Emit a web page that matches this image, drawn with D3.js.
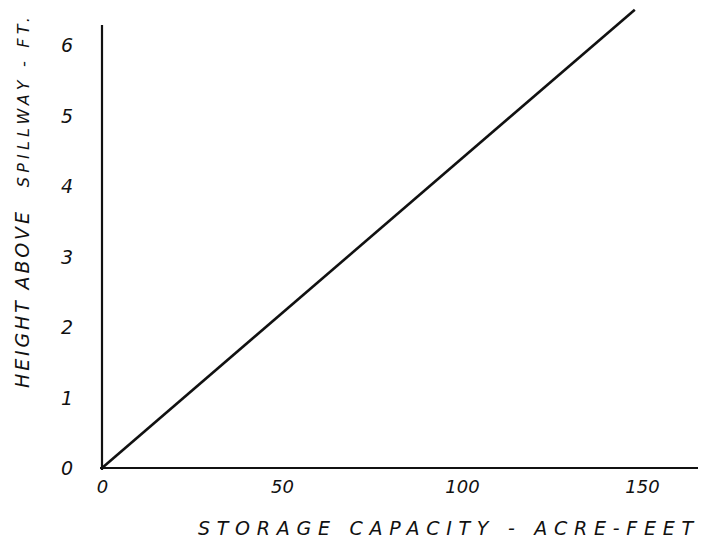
<!DOCTYPE html>
<html>
<head>
<meta charset="utf-8">
<script src="https://cdn.jsdelivr.net/npm/d3@7"></script>
<style>
  body { margin: 0; background: #fff; }
  text { font-family: "DejaVu Sans", sans-serif; font-style: italic; fill: #111; }
</style>
</head>
<body>
<div id="chart"></div>
<script>
  // Data
  var capacity = [0, 148];      // acre-feet
  var height = [0, 6.5];        // ft above spillway
  var xTicks = [0, 50, 100, 150];
  var yTicks = [0, 1, 2, 3, 4, 5, 6];

  var W = 701, H = 542;

  var svg = d3.select("#chart")
      .append("svg")
      .attr("width", W)
      .attr("height", H);

  // scales
  var x = d3.scaleLinear().domain([0, 150]).range([102, 642]);
  var y = d3.scaleLinear().domain([0, 6]).range([468, 45]);

  // axes - no tick marks, just the hand lettered numbers
  var xAxis = svg.append("g")
      .attr("transform", "translate(0, 468)")
      .call(d3.axisBottom(x).tickValues(xTicks).tickFormat(d3.format("d")).tickSize(0).tickPadding(12));
  xAxis.select(".domain").remove();
  xAxis.selectAll("text")
      .attr("font-size", "18px")
      .attr("font-family", null);

  var yAxis = svg.append("g")
      .attr("transform", "translate(102, 0)")
      .call(d3.axisLeft(y).tickValues(yTicks).tickFormat(d3.format("d")).tickSize(0).tickPadding(29));
  yAxis.select(".domain").remove();
  yAxis.selectAll("text")
      .attr("font-size", "19px")
      .attr("font-family", null)
      .attr("dy", "0.35em");

  // axis lines
  svg.append("line")
      .attr("x1", x(0)).attr("x2", x(0))
      .attr("y1", 25).attr("y2", y(0) + 2)
      .attr("stroke", "#111").attr("stroke-width", 2.2);
  svg.append("line")
      .attr("x1", x(0) - 2).attr("x2", 698)
      .attr("y1", y(0)).attr("y2", y(0))
      .attr("stroke", "#111").attr("stroke-width", 2);

  // storage line
  var pts = capacity.map(function(c, i) { return [c, height[i]]; });
  var line = d3.line()
      .x(function(d) { return x(d[0]); })
      .y(function(d) { return y(d[1]); });

  svg.append("path")
      .datum(pts)
      .attr("d", line)
      .attr("fill", "none")
      .attr("stroke", "#111")
      .attr("stroke-width", 2.6);

  // labels
  svg.append("text")
      .attr("x", 198)
      .attr("y", 535)
      .attr("font-size", "19px")
      .attr("textLength", 495)
      .attr("lengthAdjust", "spacing")
      .text("STORAGE CAPACITY - ACRE-FEET");

  var yLabel = svg.append("text")
      .attr("transform", "translate(29, 388) rotate(-90)");
  yLabel.append("tspan")
      .attr("font-size", "19px")
      .attr("textLength", 176)
      .attr("lengthAdjust", "spacing")
      .text("HEIGHT ABOVE");
  yLabel.append("tspan")
      .attr("dx", 22)
      .attr("font-size", "16px")
      .attr("textLength", 170)
      .attr("lengthAdjust", "spacing")
      .text("SPILLWAY - FT.");
</script>
</body>
</html>
